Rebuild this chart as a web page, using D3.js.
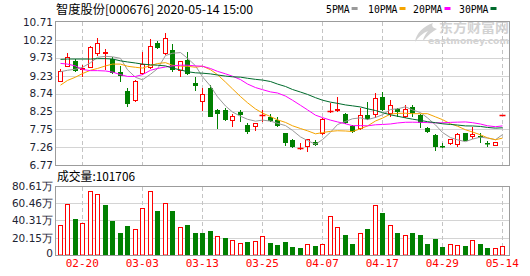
<!DOCTYPE html>
<html>
<head>
<meta charset="utf-8">
<script src="https://cdn.jsdelivr.net/npm/d3@7"></script>
<style>
  body { margin: 0; background: #fff; }
  svg { display: block; }
</style>
</head>
<body>
<svg id="chart" width="530" height="276"></svg>
<script>
// trading days shown (MM-DD)
const dates = ["02-17","02-18","02-19","02-20","02-21","02-24","02-25","02-26","02-27","02-28",
  "03-02","03-03","03-04","03-05","03-06","03-09","03-10","03-11","03-12","03-13",
  "03-16","03-17","03-18","03-19","03-20","03-23","03-24","03-25","03-26","03-27",
  "03-30","03-31","04-01","04-02","04-03","04-07","04-08","04-09","04-10","04-13",
  "04-14","04-15","04-16","04-17","04-20","04-21","04-22","04-23","04-24","04-27",
  "04-28","04-29","04-30","05-06","05-07","05-08","05-11","05-12","05-13","05-14"];

const openP = [9.06,9.48,9.64,9.39,9.45,9.82,9.82,9.68,9.34,8.81,
  8.53,9.27,9.43,10.12,9.82,9.94,9.37,9.66,9.04,8.50,
  8.89,8.29,8.29,7.98,8.24,7.86,7.83,8.13,8.10,8.01,
  7.64,7.46,7.21,7.27,7.41,7.62,8.23,8.25,8.18,7.84,
  7.75,8.15,8.15,8.64,8.18,8.30,8.08,8.36,8.15,7.78,
  7.60,7.29,7.34,7.32,7.64,7.53,7.57,7.37,7.30,8.14];
const highP = [9.42,9.85,9.68,9.52,10.05,10.26,9.96,9.74,9.50,8.90,
  9.11,9.87,10.23,10.19,10.40,10.10,9.64,9.87,9.19,8.89,
  8.98,8.30,8.33,8.17,8.29,7.92,7.94,8.29,8.17,8.10,
  7.66,7.50,7.38,7.50,7.46,8.06,8.47,8.64,8.19,7.86,
  8.33,8.51,8.76,8.79,8.56,8.33,8.42,8.42,8.17,7.81,
  7.62,7.38,7.50,7.64,7.65,7.81,7.66,7.43,7.40,8.14];
const lowP = [9.05,9.46,9.33,9.19,9.44,9.77,9.39,9.27,9.06,8.36,
  8.50,9.25,9.41,9.97,9.80,9.34,9.20,9.25,8.82,8.27,
  8.08,7.75,7.99,7.83,7.96,7.62,7.71,7.96,7.96,7.81,
  7.29,7.23,7.18,7.12,7.29,7.60,8.19,8.24,7.90,7.66,
  7.73,8.01,8.06,8.27,8.10,8.08,8.06,8.10,7.78,7.64,
  7.15,7.23,7.32,7.27,7.42,7.50,7.38,7.27,7.30,8.14];
const closeP = [9.37,9.75,9.36,9.45,10.01,10.12,9.88,9.30,9.23,8.44,
  9.08,9.54,10.06,9.99,10.26,9.39,9.64,9.28,8.95,8.74,
  8.10,8.18,8.01,8.12,8.15,7.69,7.92,8.15,7.99,7.84,
  7.38,7.26,7.25,7.49,7.32,8.03,8.27,8.31,7.92,7.69,
  8.15,8.03,8.61,8.29,8.42,8.24,8.30,8.19,7.92,7.69,
  7.27,7.26,7.48,7.62,7.44,7.62,7.53,7.35,7.40,8.14];
// volume in 万 (10k)
const volume = [35.0,59.2,42.1,37.4,74.8,70.9,58.4,39.7,25.7,33.9,
  30.4,54.5,74.8,51.4,60.4,51.4,32.3,35.0,25.7,25.7,
  28.0,22.2,19.9,17.5,14.0,15.2,16.4,22.2,14.0,11.7,
  15.2,9.3,8.2,12.9,10.5,12.9,45.6,32.7,23.4,12.9,
  25.3,30.4,58.4,48.7,35.0,25.3,23.0,25.3,23.0,12.9,
  18.7,9.3,12.9,11.7,10.5,17.1,12.9,8.6,8.2,10.17];

// moving average values at the start of the window (read off the chart,
// they need days before the first one shown)
const ma5Head = [9.34,9.38,9.41,9.46];
const ma10Head = [8.97,9.10,9.19,9.29,9.38,9.43,9.50,9.55,9.55];
const ma20Head = [9.57,9.55,9.50,9.40,9.37,9.37,9.36,9.33,9.26,9.21,
  9.21,9.26,9.38,9.43,9.47,9.50,9.52,9.52,9.50];
const ma30Head = [9.68,9.69,9.69,9.69,9.69,9.70,9.70,9.69,9.64,9.61,
  9.58,9.55,9.53,9.52,9.50,9.44,9.39,9.34,9.31,9.30,
  9.28,9.25,9.22,9.20,9.19,9.16,9.13,9.11,9.07];

const priceTicks = [10.71,10.22,9.73,9.23,8.74,8.25,7.75,7.26,6.77];
const volTicks = [80.61,60.46,40.31,20.15,0];
const volTickLabels = ["80.61万","60.46万","40.31万","20.15万","0"];
const dateTicks = ["02-20","03-03","03-13","03-25","04-07","04-17","04-29","05-14"];
const maNames = ["5PMA","10PMA","20PMA","30PMA"];
const title = "智度股份[000676] 2020-05-14 15:00";
const lastVolume = "101706";

const RED = "#ff0000", GREEN = "#008000";
const maColors = ["#9a9a9a", "#f5a400", "#ff00ff", "#006b2c"];
const n = dates.length;

const svg = d3.select("#chart");

const x = d3.scaleBand().domain(d3.range(n)).range([56, 506]);
const cx = i => Math.round(x(i) + x.bandwidth() / 2);
const yP = d3.scaleLinear().domain([6.77, 10.71]).range([165, 22]);
const yV = d3.scaleLinear().domain([0, 80.61]).range([255, 186]);

function movingAvg(len, head) {
  return closeP.map((c, i) => {
    if (i < head.length) return head[i];
    return d3.mean(closeP.slice(i - len + 1, i + 1));
  });
}
const maSeries = [movingAvg(5, ma5Head), movingAvg(10, ma10Head),
                  movingAvg(20, ma20Head), movingAvg(30, ma30Head)];

// watermark
const wm = svg.append("g").attr("fill", "#d2d2d2");
wm.append("path")
  .attr("d", "M433,23 C424,26 416,33 415,42 C418,37 423,33 428,31 C425,35 423,38 423,41 C428,35 433,31 437,29 C433,28 431,26 433,23 Z");
wm.append("text").attr("x", 439).attr("y", 32)
  .attr("font-family", "Noto Sans CJK SC").attr("font-size", 13).attr("font-weight", "bold")
  .attr("textLength", 70).attr("lengthAdjust", "spacingAndGlyphs").text("东方财富网");
wm.append("text").attr("x", 428).attr("y", 44)
  .attr("font-family", "DejaVu Sans").attr("font-size", 8).attr("font-weight", "bold")
  .attr("textLength", 81).attr("lengthAdjust", "spacingAndGlyphs").text("eastmoney.com");

// horizontal grid
const grid = svg.append("g").attr("stroke", "#d4d4d4").attr("stroke-width", 1);
grid.selectAll("line.gp").data(priceTicks.slice(1, -1)).join("line")
  .attr("x1", 56).attr("x2", 509)
  .attr("y1", d => Math.round(yP(d)) + 0.5).attr("y2", d => Math.round(yP(d)) + 0.5);
grid.selectAll("line.gv").data(volTicks.slice(1, -1)).join("line")
  .attr("class", "gv")
  .attr("x1", 56).attr("x2", 509)
  .attr("y1", d => Math.round(yV(d)) + 0.5).attr("y2", d => Math.round(yV(d)) + 0.5);

// vertical dashed lines at the date ticks
const tickIdx = dateTicks.map(d => dates.indexOf(d));
const vg = svg.append("g").attr("stroke", "#c4c4c4").attr("stroke-dasharray", "4,3");
tickIdx.forEach(i => {
  vg.append("line").attr("x1", cx(i) + 0.5).attr("x2", cx(i) + 0.5).attr("y1", 22).attr("y2", 165);
  vg.append("line").attr("x1", cx(i) + 0.5).attr("x2", cx(i) + 0.5).attr("y1", 187).attr("y2", 255);
});

// candles
const cg = svg.append("g");
d3.range(n).forEach(i => {
  const c = cx(i) + 0.5;
  const top = Math.round(yP(Math.max(openP[i], closeP[i])));
  const bot = Math.round(yP(Math.min(openP[i], closeP[i])));
  const hi = Math.round(yP(highP[i]));
  const lo = Math.round(yP(lowP[i]));
  if (closeP[i] >= openP[i]) {
    if (hi < top) cg.append("line").attr("x1", c).attr("x2", c).attr("y1", hi).attr("y2", top).attr("stroke", RED);
    if (lo > bot) cg.append("line").attr("x1", c).attr("x2", c).attr("y1", bot).attr("y2", lo).attr("stroke", RED);
    if (bot - top < 2) {
      cg.append("line").attr("x1", c - 3).attr("x2", c + 3)
        .attr("y1", top + 0.5).attr("y2", top + 0.5).attr("stroke", RED).attr("stroke-width", 1.5);
    } else {
      cg.append("rect").attr("x", c - 2).attr("y", top + 0.5)
        .attr("width", 4).attr("height", bot - top - 1)
        .attr("fill", "#fff").attr("stroke", RED);
    }
  } else {
    cg.append("line").attr("x1", c).attr("x2", c).attr("y1", hi).attr("y2", lo).attr("stroke", GREEN);
    cg.append("rect").attr("x", c - 2.5).attr("y", top)
      .attr("width", 5).attr("height", Math.max(1.5, bot - top))
      .attr("fill", GREEN);
  }
});

// moving averages
const line = d3.line().x((d, i) => cx(i) + 0.5).y(d => yP(d));
maSeries.forEach((s, k) => {
  svg.append("path").attr("d", line(s)).attr("fill", "none")
    .attr("stroke", maColors[k]).attr("stroke-width", 1);
});

// volume bars, coloured by close vs previous close
const vb = svg.append("g");
volume.forEach((v, i) => {
  const c = cx(i) + 0.5;
  const up = i === 0 ? closeP[i] >= openP[i] : closeP[i] >= closeP[i - 1];
  const top = Math.round(yV(v));
  if (up) {
    vb.append("rect").attr("x", c - 2).attr("y", top + 0.5)
      .attr("width", 4).attr("height", 255 - top - 0.5)
      .attr("fill", "#fff").attr("stroke", RED);
  } else {
    vb.append("rect").attr("x", c - 2.5).attr("y", top)
      .attr("width", 5).attr("height", 255 - top)
      .attr("fill", GREEN);
  }
});

// frames
const fr = svg.append("g").attr("fill", "none").attr("stroke", "#9c9c9c");
fr.append("rect").attr("x", 55.5).attr("y", 21.5).attr("width", 454).attr("height", 144);
fr.append("rect").attr("x", 55.5).attr("y", 186.5).attr("width", 454).attr("height", 69);

// axes
const yAxis = svg.append("g").attr("transform", "translate(53,0)")
  .call(d3.axisLeft(yP).tickValues(priceTicks).tickSize(0).tickPadding(0)
    .tickFormat(d3.format(".2f")));
const vAxis = svg.append("g").attr("transform", "translate(53,0)")
  .call(d3.axisLeft(yV).tickValues(volTicks).tickSize(0).tickPadding(0)
    .tickFormat((d, i) => volTickLabels[i]));
[yAxis, vAxis].forEach(a => {
  a.select(".domain").remove();
  a.selectAll("text").attr("font-family", "DejaVu Sans").attr("font-size", 10.5)
    .attr("fill", "#1d2433");
});
vAxis.selectAll("text").filter(d => d === 0).attr("dy", "0.1em");

const xAxis = svg.append("g").attr("transform", "translate(0,259)")
  .call(d3.axisBottom(x).tickValues(tickIdx).tickSize(0).tickPadding(0)
    .tickFormat(i => dates[i]));
xAxis.select(".domain").remove();
xAxis.selectAll("text").attr("font-family", "DejaVu Sans Mono").attr("font-size", 11)
  .attr("fill", RED);

// title and legend
svg.append("text").attr("x", 56).attr("y", 14)
  .attr("font-family", "Noto Sans CJK SC").attr("font-size", 12).attr("fill", "#000")
  .attr("textLength", 197).attr("lengthAdjust", "spacingAndGlyphs").text(title);

const legendX = [326, 368, 413, 459];
maNames.forEach((name, k) => {
  svg.append("text").attr("x", legendX[k]).attr("y", 13)
    .attr("font-family", "DejaVu Sans Mono").attr("font-size", 11).attr("fill", "#000")
    .attr("textLength", name.length * 5.9).attr("lengthAdjust", "spacingAndGlyphs").text(name);
  svg.append("rect").attr("x", legendX[k] + name.length * 5.9 + 2).attr("y", 7)
    .attr("width", 6).attr("height", 3).attr("fill", maColors[k]);
});

svg.append("text").attr("x", 57).attr("y", 181)
  .attr("font-family", "Noto Sans CJK SC").attr("font-size", 12).attr("fill", "#000")
  .attr("textLength", 78).attr("lengthAdjust", "spacingAndGlyphs").text("成交量:" + lastVolume);
</script>
</body>
</html>
